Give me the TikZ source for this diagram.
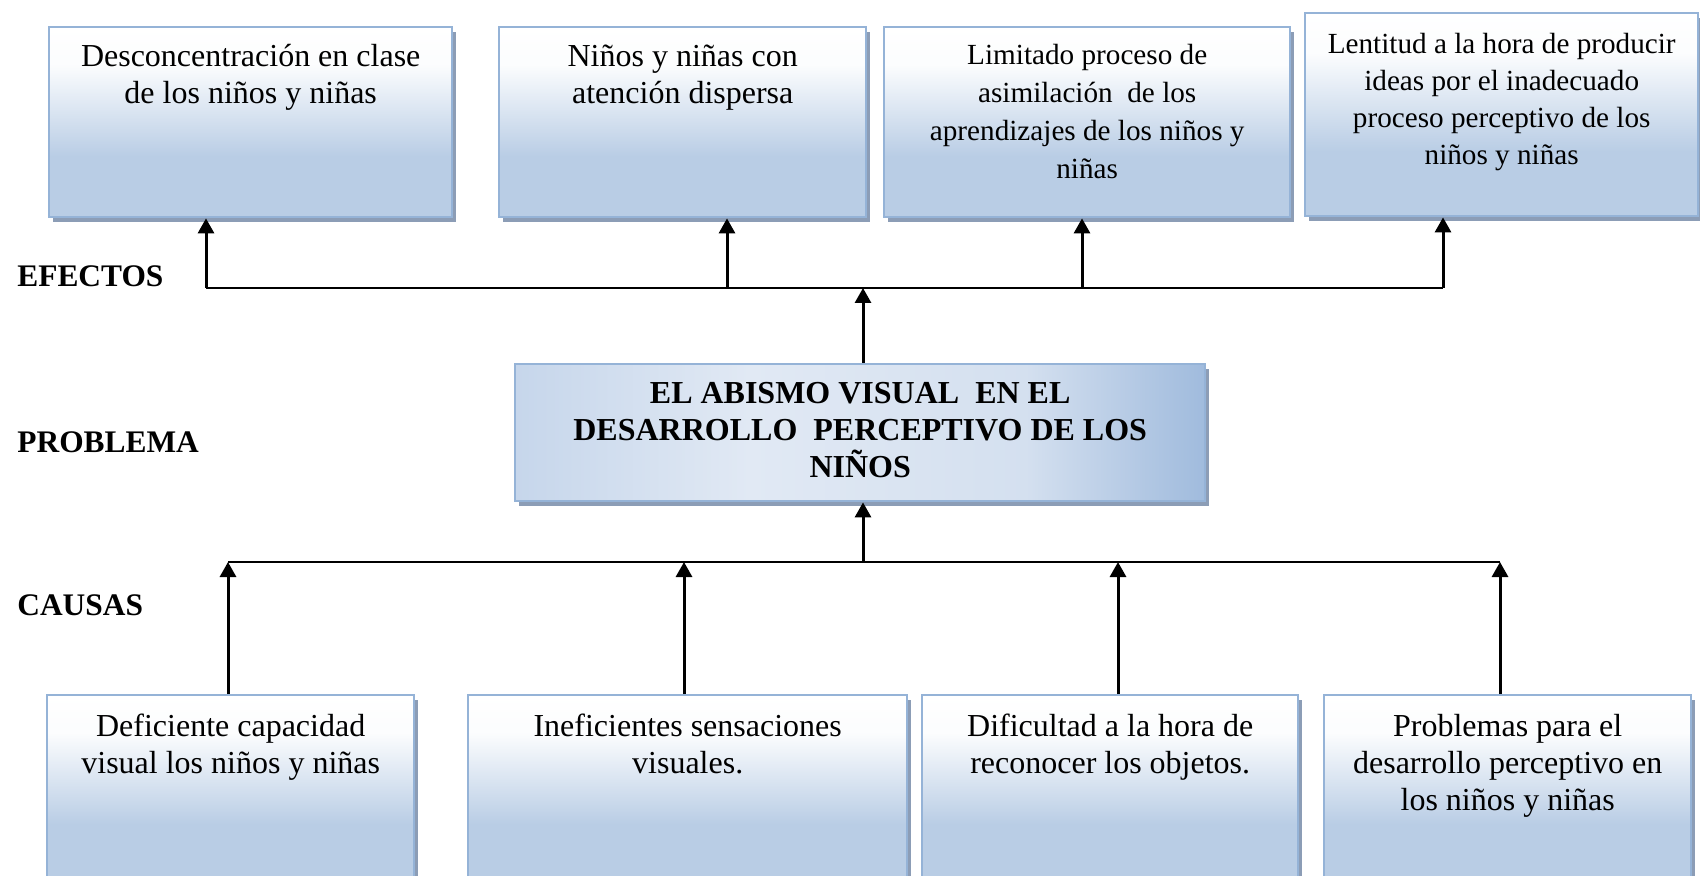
\documentclass[tikz,border=0pt]{standalone}
\usepackage{fontspec}
\setmainfont{Liberation Serif}
\usepackage{xcolor}
\usepackage{tikz}
\usetikzlibrary{arrows.meta, shadows, positioning}
\definecolor{bordeazul}{RGB}{149,179,215}
\definecolor{fondoazul}{RGB}{185,205,229}
\definecolor{sombraazul}{RGB}{140,157,182}
\definecolor{probizq}{RGB}{198,214,235}
\definecolor{probcentro}{RGB}{225,233,244}
\definecolor{probder}{RGB}{160,187,221}

\pgfdeclareverticalshading{cajafondo}{100bp}{color(0bp)=(fondoazul); color(41bp)=(fondoazul); color(65bp)=(white!95!fondoazul); color(75bp)=(white); color(100bp)=(white)}
\pgfdeclarehorizontalshading{problemafondo}{100bp}{color(0bp)=(probizq); color(25bp)=(probizq); color(42bp)=(probcentro); color(62bp)=(probcentro!80!probder); color(75bp)=(probder); color(100bp)=(probder)}

\newcommand{\textocaja}[4]{\begin{minipage}[t][#2][t]{#1}\centering\rule{0pt}{#3}#4\end{minipage}}

\tikzset{
  caja/.style={draw=bordeazul, line width=1.2pt, shading=cajafondo, inner sep=0pt, anchor=north west,
    drop shadow={shadow xshift=2pt, shadow yshift=-2.5pt, fill=sombraazul, opacity=1},
    font=\fontsize{16}{18.5}\selectfont},
  flecha/.style={-{Triangle[width=8pt,length=7.5pt]}, line width=1.5pt},
  linea/.style={line width=1pt},
  etiqueta/.style={anchor=base west, inner sep=0pt, font=\bfseries\fontsize{15.7}{18}\selectfont}
}

\begin{document}
\begin{tikzpicture}[x=0.5pt, y=-0.5pt]
    \useasboundingbox (0,0) rectangle (1700,876);
    % efectos
    \node[caja] (ef1) at (48,26) {\textocaja{201.5pt}{95pt}{19.5pt}{Desconcentración en clase\\de los niños y niñas}};
    \node[caja] (ef2) at (498,26) {\textocaja{183.5pt}{95pt}{19.5pt}{Niños y niñas con\\atención dispersa}};
    \node[caja, font=\fontsize{14.6}{19}\selectfont] (ef3) at (883,26) {\textocaja{203pt}{95pt}{18.5pt}{Limitado proceso de\\asimilación\ \ de los\\aprendizajes de los niños y\\niñas}};
    \node[caja, font=\fontsize{14.6}{18.5}\selectfont] (ef4) at (1304,12) {\textocaja{196.5pt}{101.5pt}{20pt}{Lentitud a la hora de producir\\ideas por el inadecuado\\proceso perceptivo de los\\niños y niñas}};
    % problema
    \node[caja, shading=problemafondo, font=\bfseries\fontsize{16}{18.7}\selectfont] (prob) at (514,363) {\textocaja{345pt}{68.5pt}{19.5pt}{EL ABISMO VISUAL\ \ EN EL\\DESARROLLO\ \ PERCEPTIVO DE LOS\\NIÑOS}};
    % causas
    \node[caja] (ca1) at (46,694) {\textocaja{183.5pt}{95pt}{20.5pt}{Deficiente capacidad\\visual los niños y niñas}};
    \node[caja] (ca2) at (467,694) {\textocaja{219.5pt}{95pt}{20.5pt}{Ineficientes sensaciones\\visuales.}};
    \node[caja] (ca3) at (921,694) {\textocaja{188pt}{95pt}{20.5pt}{Dificultad a la hora de\\reconocer los objetos.}};
    \node[caja] (ca4) at (1323,694) {\textocaja{183.5pt}{95pt}{20.5pt}{Problemas para el\\desarrollo perceptivo en\\los niños y niñas}};
    % etiquetas
    \node[etiqueta] (efectos) at (17,287) {EFECTOS};
    \node[etiqueta] (problema) at (17,452) {PROBLEMA};
    \node[etiqueta] (causas) at (17,615) {CAUSAS};
    % ejes
    \coordinate (ae1) at (206,288);
    \coordinate (ae2) at (727,288);
    \coordinate (ae3) at (1082,288);
    \coordinate (ae4) at (1443,288);
    \coordinate (aep) at (863,288);
    \coordinate (ac1) at (228,562);
    \coordinate (ac2) at (684,562);
    \coordinate (ac3) at (1118,562);
    \coordinate (ac4) at (1500,562);
    \coordinate (acp) at (863,562);
    \draw[linea] (ae1) -- (ae4);
    \draw[linea] (ac1) -- (ac4);
    \foreach \i in {1,...,4} {
        \draw[flecha] (ae\i) -- (ae\i |- ef\i.south);
        \draw[flecha] (ac\i |- ca\i.north) -- (ac\i);
    }
    \draw[flecha] (aep |- prob.north) -- (aep);
    \draw[flecha] (acp) -- (acp |- prob.south);
\end{tikzpicture}
\end{document}
